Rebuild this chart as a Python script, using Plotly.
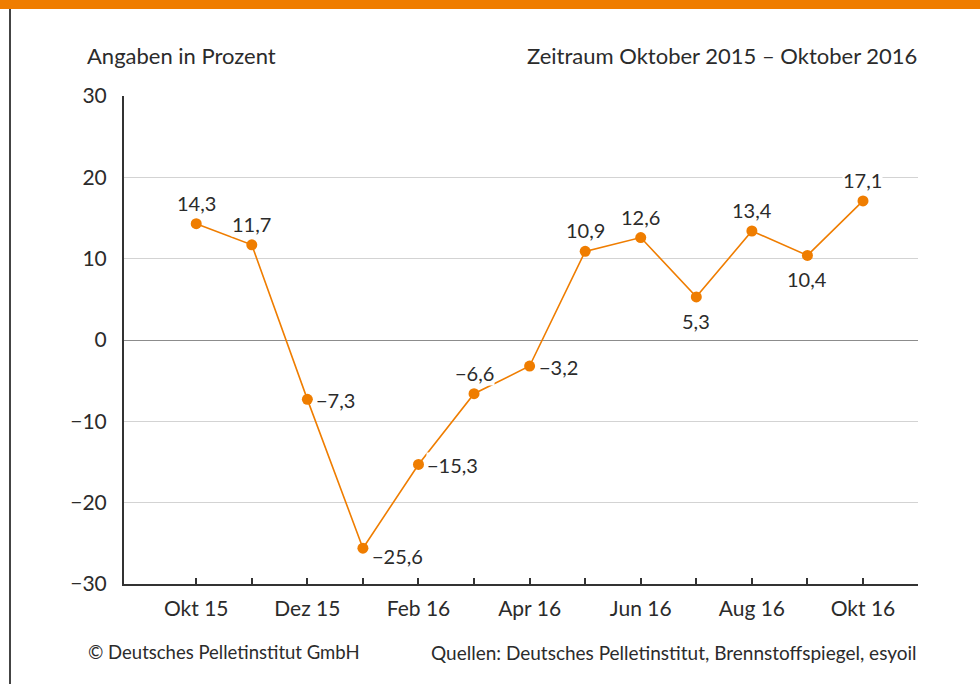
import plotly.graph_objects as go

months = ["Okt 15", "Nov 15", "Dez 15", "Jan 16", "Feb 16", "Mär 16", "Apr 16",
          "Mai 16", "Jun 16", "Jul 16", "Aug 16", "Sep 16", "Okt 16"]
values = [14.3, 11.7, -7.3, -25.6, -15.3, -6.6, -3.2, 10.9, 12.6, 5.3, 13.4, 10.4, 17.1]
tick_labels = ["Okt 15", "", "Dez 15", "", "Feb 16", "", "Apr 16", "", "Jun 16", "", "Aug 16", "", "Okt 16"]
y_ticks = [-30, -20, -10, 0, 10, 20, 30]

# label placement per point
label_pos = ["top", "top", "right", "rightlow", "right", "top", "right",
             "top", "top", "bottom", "top", "bottom", "top"]

ORANGE = "#EF7D00"
TXT = "#2b2b2b"
FONT = "Lato"

xs = list(range(len(months)))

fig = go.Figure()
fig.add_trace(go.Scatter(
    x=xs, y=values, mode="lines+markers",
    line=dict(color=ORANGE, width=1.6),
    marker=dict(color=ORANGE, size=11),
    hoverinfo="skip", showlegend=False, cliponaxis=False,
))

def fmt(v):
    s = f"{abs(v):.1f}".replace(".", ",")
    return ("\u2212" if v < 0 else "") + s

for x, v, p in zip(xs, values, label_pos):
    if p == "top":
        kw = dict(xanchor="center", yanchor="middle", xshift=0, yshift=21)
    elif p == "bottom":
        kw = dict(xanchor="center", yanchor="middle", xshift=0, yshift=-24)
    elif p == "right":
        kw = dict(xanchor="left", yanchor="middle", xshift=8, yshift=-1)
    else:
        kw = dict(xanchor="left", yanchor="middle", xshift=8, yshift=-8)
    fig.add_annotation(x=x, y=v, xref="x", yref="y", text=fmt(v), showarrow=False,
                       bgcolor="white", borderpad=0,
                       font=dict(family=FONT, size=20, color=TXT), **kw)

W, H = 980, 684
L, R, T, B = 124, 62, 96, 100
pw, ph = W - L - R, H - T - B

def px(xp):
    return (xp - L) / pw

def py(yp):
    return (H - B - yp) / ph

fig.update_layout(
    width=W, height=H,
    margin=dict(l=L, r=R, t=T, b=B, autoexpand=False),
    paper_bgcolor="white", plot_bgcolor="white",
    font=dict(family=FONT, size=21, color=TXT),
    xaxis=dict(
        range=[-1.3, 12.99], tickmode="array", tickvals=xs, ticktext=tick_labels,
        showgrid=False, zeroline=False, showline=True, linecolor="#333333", linewidth=2,
        ticks="inside", ticklen=6, tickcolor="#333333", tickwidth=1.5,
        ticklabelstandoff=5,
        tickfont=dict(family=FONT, size=21, color=TXT),
    ),
    yaxis=dict(
        range=[-30, 30], tickmode="array", tickvals=y_ticks,
        showgrid=True, gridcolor="#d3d3d3", gridwidth=1,
        zeroline=True, zerolinecolor="#8c8c8c", zerolinewidth=1,
        showline=True, linecolor="#333333", linewidth=2, ticks="",
        ticklabelstandoff=11,
        tickfont=dict(family=FONT, size=21, color=TXT),
    ),
)

fig.add_shape(type="rect", xref="paper", yref="paper",
              x0=px(0), x1=px(W), y0=py(9), y1=py(0),
              fillcolor=ORANGE, line=dict(width=0), layer="above")
fig.add_shape(type="line", xref="paper", yref="paper",
              x0=px(10), x1=px(10), y0=py(H), y1=py(9),
              line=dict(color="#444444", width=2))

fig.add_annotation(xref="paper", yref="paper", x=px(85), y=py(56), text="Angaben in Prozent",
                   showarrow=False, xanchor="left", yanchor="middle",
                   font=dict(family=FONT, size=22, color=TXT))
fig.add_annotation(xref="paper", yref="paper", x=px(919), y=py(56),
                   text="Zeitraum Oktober 2015 \u2013 Oktober 2016",
                   showarrow=False, xanchor="right", yanchor="middle",
                   font=dict(family=FONT, size=22, color=TXT))
fig.add_annotation(xref="paper", yref="paper", x=px(86), y=py(652),
                   text="\u00a9 Deutsches Pelletinstitut GmbH",
                   showarrow=False, xanchor="left", yanchor="middle",
                   font=dict(family=FONT, size=18.5, color=TXT))
fig.add_annotation(xref="paper", yref="paper", x=px(919), y=py(652),
                   text="Quellen: Deutsches Pelletinstitut, Brennstoffspiegel, esyoil",
                   showarrow=False, xanchor="right", yanchor="middle",
                   font=dict(family=FONT, size=19, color=TXT))

fig.write_html("out.html", config={"displayModeBar": False},
               post_script="document.body.style.margin='0';")
